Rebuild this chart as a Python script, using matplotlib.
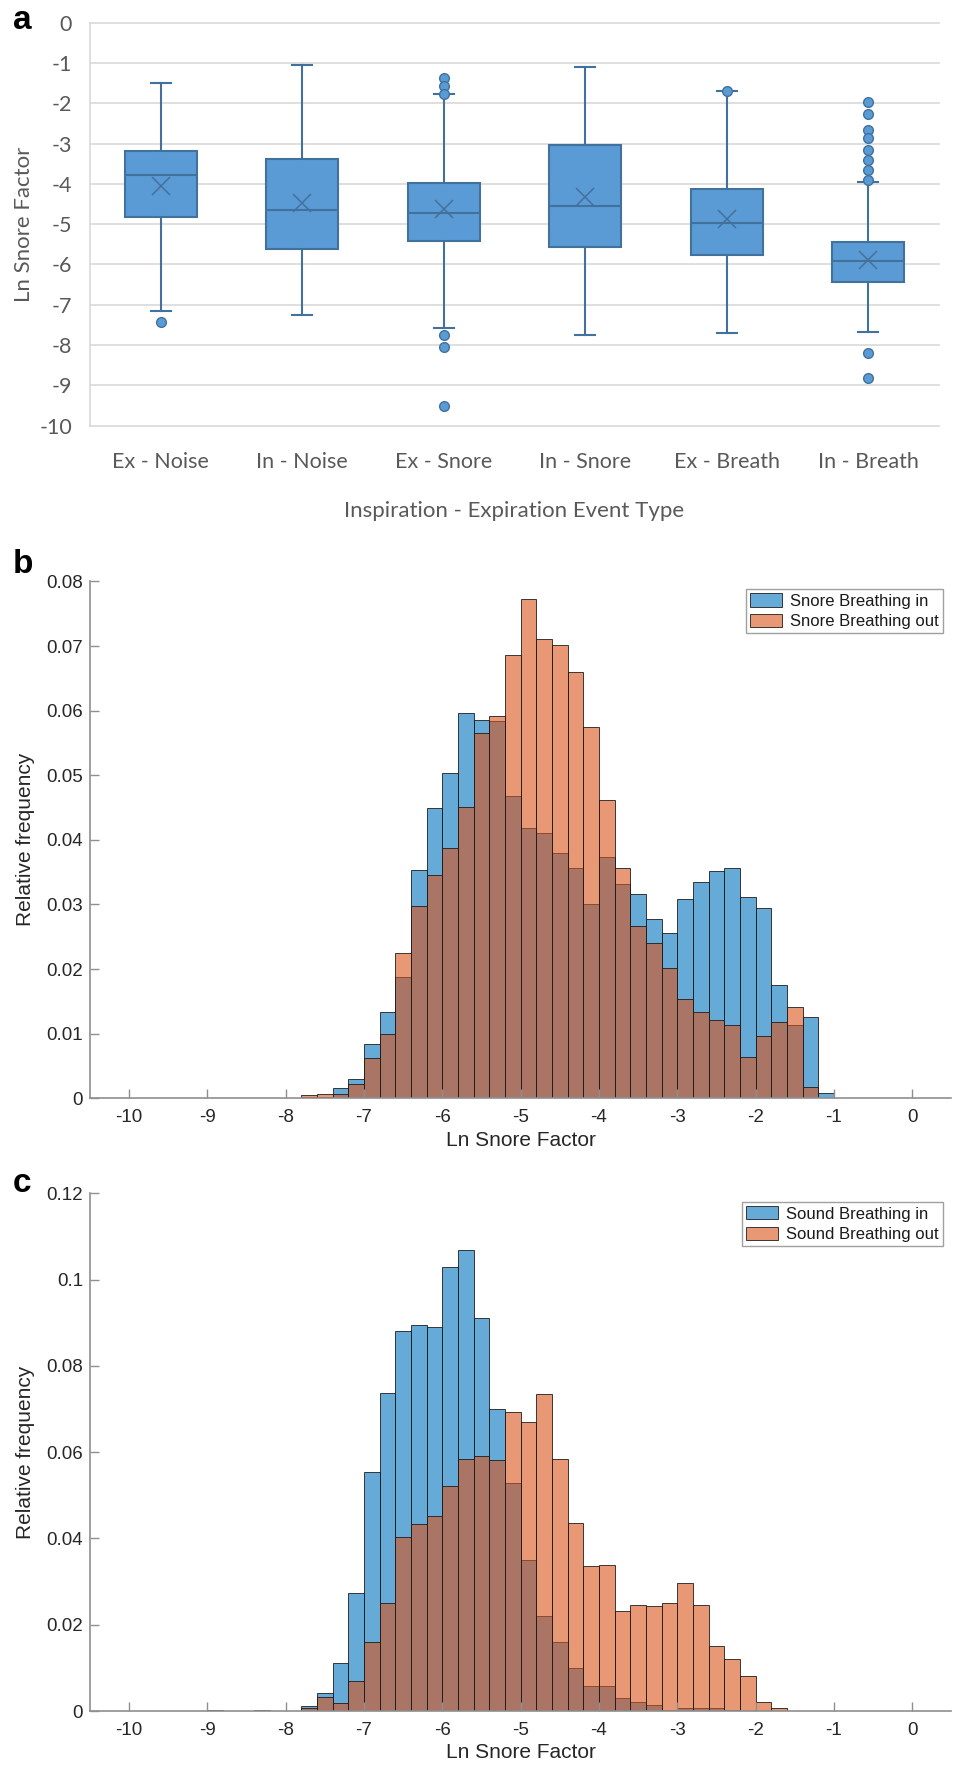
import numpy as np
import matplotlib.pyplot as plt

# ---- panel a: box plot of Ln snore factor per event type ----
box_labels = ['Ex - Noise', 'In - Noise', 'Ex - Snore', 'In - Snore', 'Ex - Breath', 'In - Breath']
box_q1 = [-4.81, -5.62, -5.42, -5.57, -5.77, -6.44]
box_med = [-3.79, -4.65, -4.71, -4.55, -4.96, -5.91]
box_q3 = [-3.18, -3.39, -3.97, -3.04, -4.12, -5.43]
box_mean = [-4.04, -4.48, -4.62, -4.33, -4.87, -5.89]
box_lo = [-7.15, -7.26, -7.57, -7.76, -7.71, -7.68]
box_hi = [-1.50, -1.05, -1.78, -1.10, -1.70, -3.95]
box_out = [[-7.43],
           [],
           [-1.36, -1.58, -1.78, -7.76, -8.04, -9.51],
           [],
           [-1.70],
           [-1.97, -2.27, -2.66, -2.86, -3.15, -3.40, -3.65, -3.90, -8.20, -8.81]]

# ---- panels b and c: relative frequency histograms, 0.2 wide bins from -10 to -1 ----
bin_edges = np.linspace(-10, -1, 46)

snore_in = [0, 0, 0, 0, 0, 0, 0, 0, 0, 0, 0,
            0.0002, 0.0002, 0.0016, 0.0030, 0.0084, 0.0133, 0.0188, 0.0353, 0.0450, 0.0503,
            0.0596, 0.0586, 0.0584, 0.0468, 0.0419, 0.0410, 0.0379, 0.0357, 0.0300, 0.0374,
            0.0331, 0.0316, 0.0278, 0.0256, 0.0309, 0.0334, 0.0352, 0.0356, 0.0312, 0.0294,
            0.0176, 0.0114, 0.0126, 0.0008]
snore_out = [0, 0, 0.0001, 0, 0, 0, 0, 0, 0, 0.0001, 0,
             0.0005, 0.0006, 0.0006, 0.0022, 0.0062, 0.0100, 0.0225, 0.0298, 0.0345, 0.0388,
             0.0451, 0.0566, 0.0591, 0.0686, 0.0772, 0.0711, 0.0702, 0.0660, 0.0575, 0.0461,
             0.0357, 0.0266, 0.0240, 0.0201, 0.0153, 0.0133, 0.0121, 0.0113, 0.0064, 0.0097,
             0.0118, 0.0142, 0.0018, 0]

sound_in = [0, 0, 0, 0, 0, 0.0002, 0, 0, 0.0002, 0, 0,
            0.0011, 0.0042, 0.0112, 0.0273, 0.0554, 0.0737, 0.0880, 0.0894, 0.0891, 0.1030,
            0.1069, 0.0911, 0.0701, 0.0529, 0.0350, 0.0221, 0.0161, 0.0099, 0.0057, 0.0057,
            0.0029, 0.0022, 0.0013, 0.0003, 0.0006, 0.0006, 0.0008, 0.0003, 0, 0,
            0, 0, 0, 0]
sound_out = [0, 0, 0, 0, 0, 0, 0, 0, 0, 0, 0,
             0.0006, 0.0032, 0.0019, 0.0069, 0.0159, 0.0250, 0.0404, 0.0434, 0.0453, 0.0521,
             0.0583, 0.0591, 0.0582, 0.0692, 0.0671, 0.0735, 0.0585, 0.0436, 0.0336, 0.0339,
             0.0231, 0.0246, 0.0243, 0.0251, 0.0296, 0.0246, 0.0150, 0.0121, 0.0081, 0.0022,
             0.0007, 0, 0, 0]

b_yticks = [0, 0.01, 0.02, 0.03, 0.04, 0.05, 0.06, 0.07, 0.08]
b_ylabels = ['0', '0.01', '0.02', '0.03', '0.04', '0.05', '0.06', '0.07', '0.08']
c_yticks = [0, 0.02, 0.04, 0.06, 0.08, 0.10, 0.12]
c_ylabels = ['0', '0.02', '0.04', '0.06', '0.08', '0.1', '0.12']
hist_xticks = [-10, -9, -8, -7, -6, -5, -4, -3, -2, -1, 0]

W, H = 954, 1767
fig = plt.figure(figsize=(W / 100, H / 100), dpi=100)


def px_axes(left, top, right, bottom):
    return fig.add_axes([left / W, 1 - bottom / H, (right - left) / W, (bottom - top) / H])


# ---------------- panel a ----------------
excel_grey = '#595959'
box_fill = '#5B9BD5'
box_edge = '#41719C'

ax = px_axes(90, 22.7, 939, 425.7)
stats = []
for i in range(len(box_labels)):
    stats.append(dict(label=box_labels[i], q1=box_q1[i], med=box_med[i], q3=box_q3[i],
                      mean=box_mean[i], whislo=box_lo[i], whishi=box_hi[i],
                      fliers=box_out[i]))
ax.bxp(stats, widths=0.51, showmeans=True, patch_artist=True,
       boxprops=dict(facecolor=box_fill, edgecolor=box_edge, linewidth=1.5),
       medianprops=dict(color=box_edge, linewidth=1.5),
       whiskerprops=dict(color=box_edge, linewidth=1.5),
       capprops=dict(color=box_edge, linewidth=1.5),
       capwidths=0.14,
       meanprops=dict(marker='x', markersize=13, markeredgecolor='#44709a',
                      markeredgewidth=1.1),
       flierprops=dict(marker='o', markersize=7, markerfacecolor=box_fill,
                       markeredgecolor=box_edge, markeredgewidth=1))
ax.set_xlim(0.5, 6.5)
ax.set_ylim(-10, 0)
ax.set_yticks(np.arange(-10, 1, 1))
ax.set_yticklabels([str(v) for v in range(-10, 1)])
ax.yaxis.grid(True, color='#d9d9d9', linewidth=1.2)
for gl in ax.get_ygridlines():
    gl.set_clip_on(False)
ax.set_axisbelow(True)
for s in ['top', 'right', 'bottom']:
    ax.spines[s].set_visible(False)
ax.spines['left'].set_color('#d9d9d9')
ax.spines['left'].set_linewidth(1.2)
ax.tick_params(axis='both', length=0, colors=excel_grey, labelsize=15.5)
ax.tick_params(axis='y', pad=13)
ax.tick_params(axis='x', pad=19)
for t in ax.get_xticklabels() + ax.get_yticklabels():
    t.set_family('Lato')
ax.set_xlabel('Inspiration - Expiration Event Type', fontsize=16, color=excel_grey,
              family='Lato', labelpad=21)
ax.set_ylabel('Ln Snore Factor', fontsize=16, color=excel_grey, family='Lato')
ax.yaxis.set_label_coords((34 - 90) / 849, 0.5)

# ---------------- panels b and c ----------------
blue = (0.0, 0.447, 0.741, 0.6)
orange = (0.85, 0.325, 0.098, 0.6)
edge = (0.1, 0.1, 0.1, 0.85)
axis_grey = '#8f8f8f'
text_dark = '#262626'


def draw_hist(ax, h_in, h_out, lab_in, lab_out, yticks, ylabels, ymax, legend_top):
    h_in = np.array(h_in)
    h_out = np.array(h_out)
    left = bin_edges[:-1]
    keep = h_in > 0
    ax.bar(left[keep], h_in[keep], width=0.2, align='edge', color=blue,
           edgecolor=edge, linewidth=0.7, label=lab_in)
    keep = h_out > 0
    ax.bar(left[keep], h_out[keep], width=0.2, align='edge', color=orange,
           edgecolor=edge, linewidth=0.7, label=lab_out)
    ax.set_xlim(-10.5, 0.5)
    ax.set_ylim(0, ymax)
    ax.set_xticks(hist_xticks)
    ax.set_xticklabels([str(v) for v in hist_xticks])
    ax.set_yticks(yticks)
    ax.set_yticklabels(ylabels)
    for s in ['top', 'right']:
        ax.spines[s].set_visible(False)
    for s in ['left', 'bottom']:
        ax.spines[s].set_color(axis_grey)
        ax.spines[s].set_linewidth(1.2)
    ax.tick_params(direction='in', length=6.5, width=1, color=axis_grey,
                   labelcolor=text_dark, labelsize=13.5)
    ax.tick_params(axis='x', pad=8)
    ax.tick_params(axis='y', pad=5)
    for t in ax.get_xticklabels() + ax.get_yticklabels():
        t.set_family('Liberation Sans')
    ax.set_xlabel('Ln Snore Factor', fontsize=15, color=text_dark,
                  family='Liberation Sans', labelpad=3)
    ax.set_ylabel('Relative frequency', fontsize=15, color=text_dark,
                  family='Liberation Sans')
    ax.yaxis.set_label_coords((35 - 90) / 861.3, 0.5)
    leg = ax.legend(loc='upper right', bbox_to_anchor=(0.9903, legend_top),
                    borderaxespad=0, fancybox=False, framealpha=1,
                    edgecolor='#a0a0a0', handlelength=1.9, handleheight=0.85,
                    handletextpad=0.5, borderpad=0.25, labelspacing=0.3,
                    prop=dict(family='Liberation Sans', size=12))
    leg.get_frame().set_linewidth(1)
    for t in leg.get_texts():
        t.set_color('#1a1a1a')


axb = px_axes(90, 581.4, 951.3, 1098.3)
draw_hist(axb, snore_in, snore_out, 'Snore Breathing in', 'Snore Breathing out',
          b_yticks, b_ylabels, 0.08, 0.9847)

axc = px_axes(90, 1193.3, 951.3, 1711)
draw_hist(axc, sound_in, sound_out, 'Sound Breathing in', 'Sound Breathing out',
          c_yticks, c_ylabels, 0.12, 0.9832)

# panel letters
for letter, base in [('a', 29), ('b', 573), ('c', 1192)]:
    fig.text(13 / W, 1 - base / H, letter, fontsize=24, fontweight='bold',
             family='Liberation Sans', va='baseline', ha='left')

fig.savefig('out.png', dpi=100)
